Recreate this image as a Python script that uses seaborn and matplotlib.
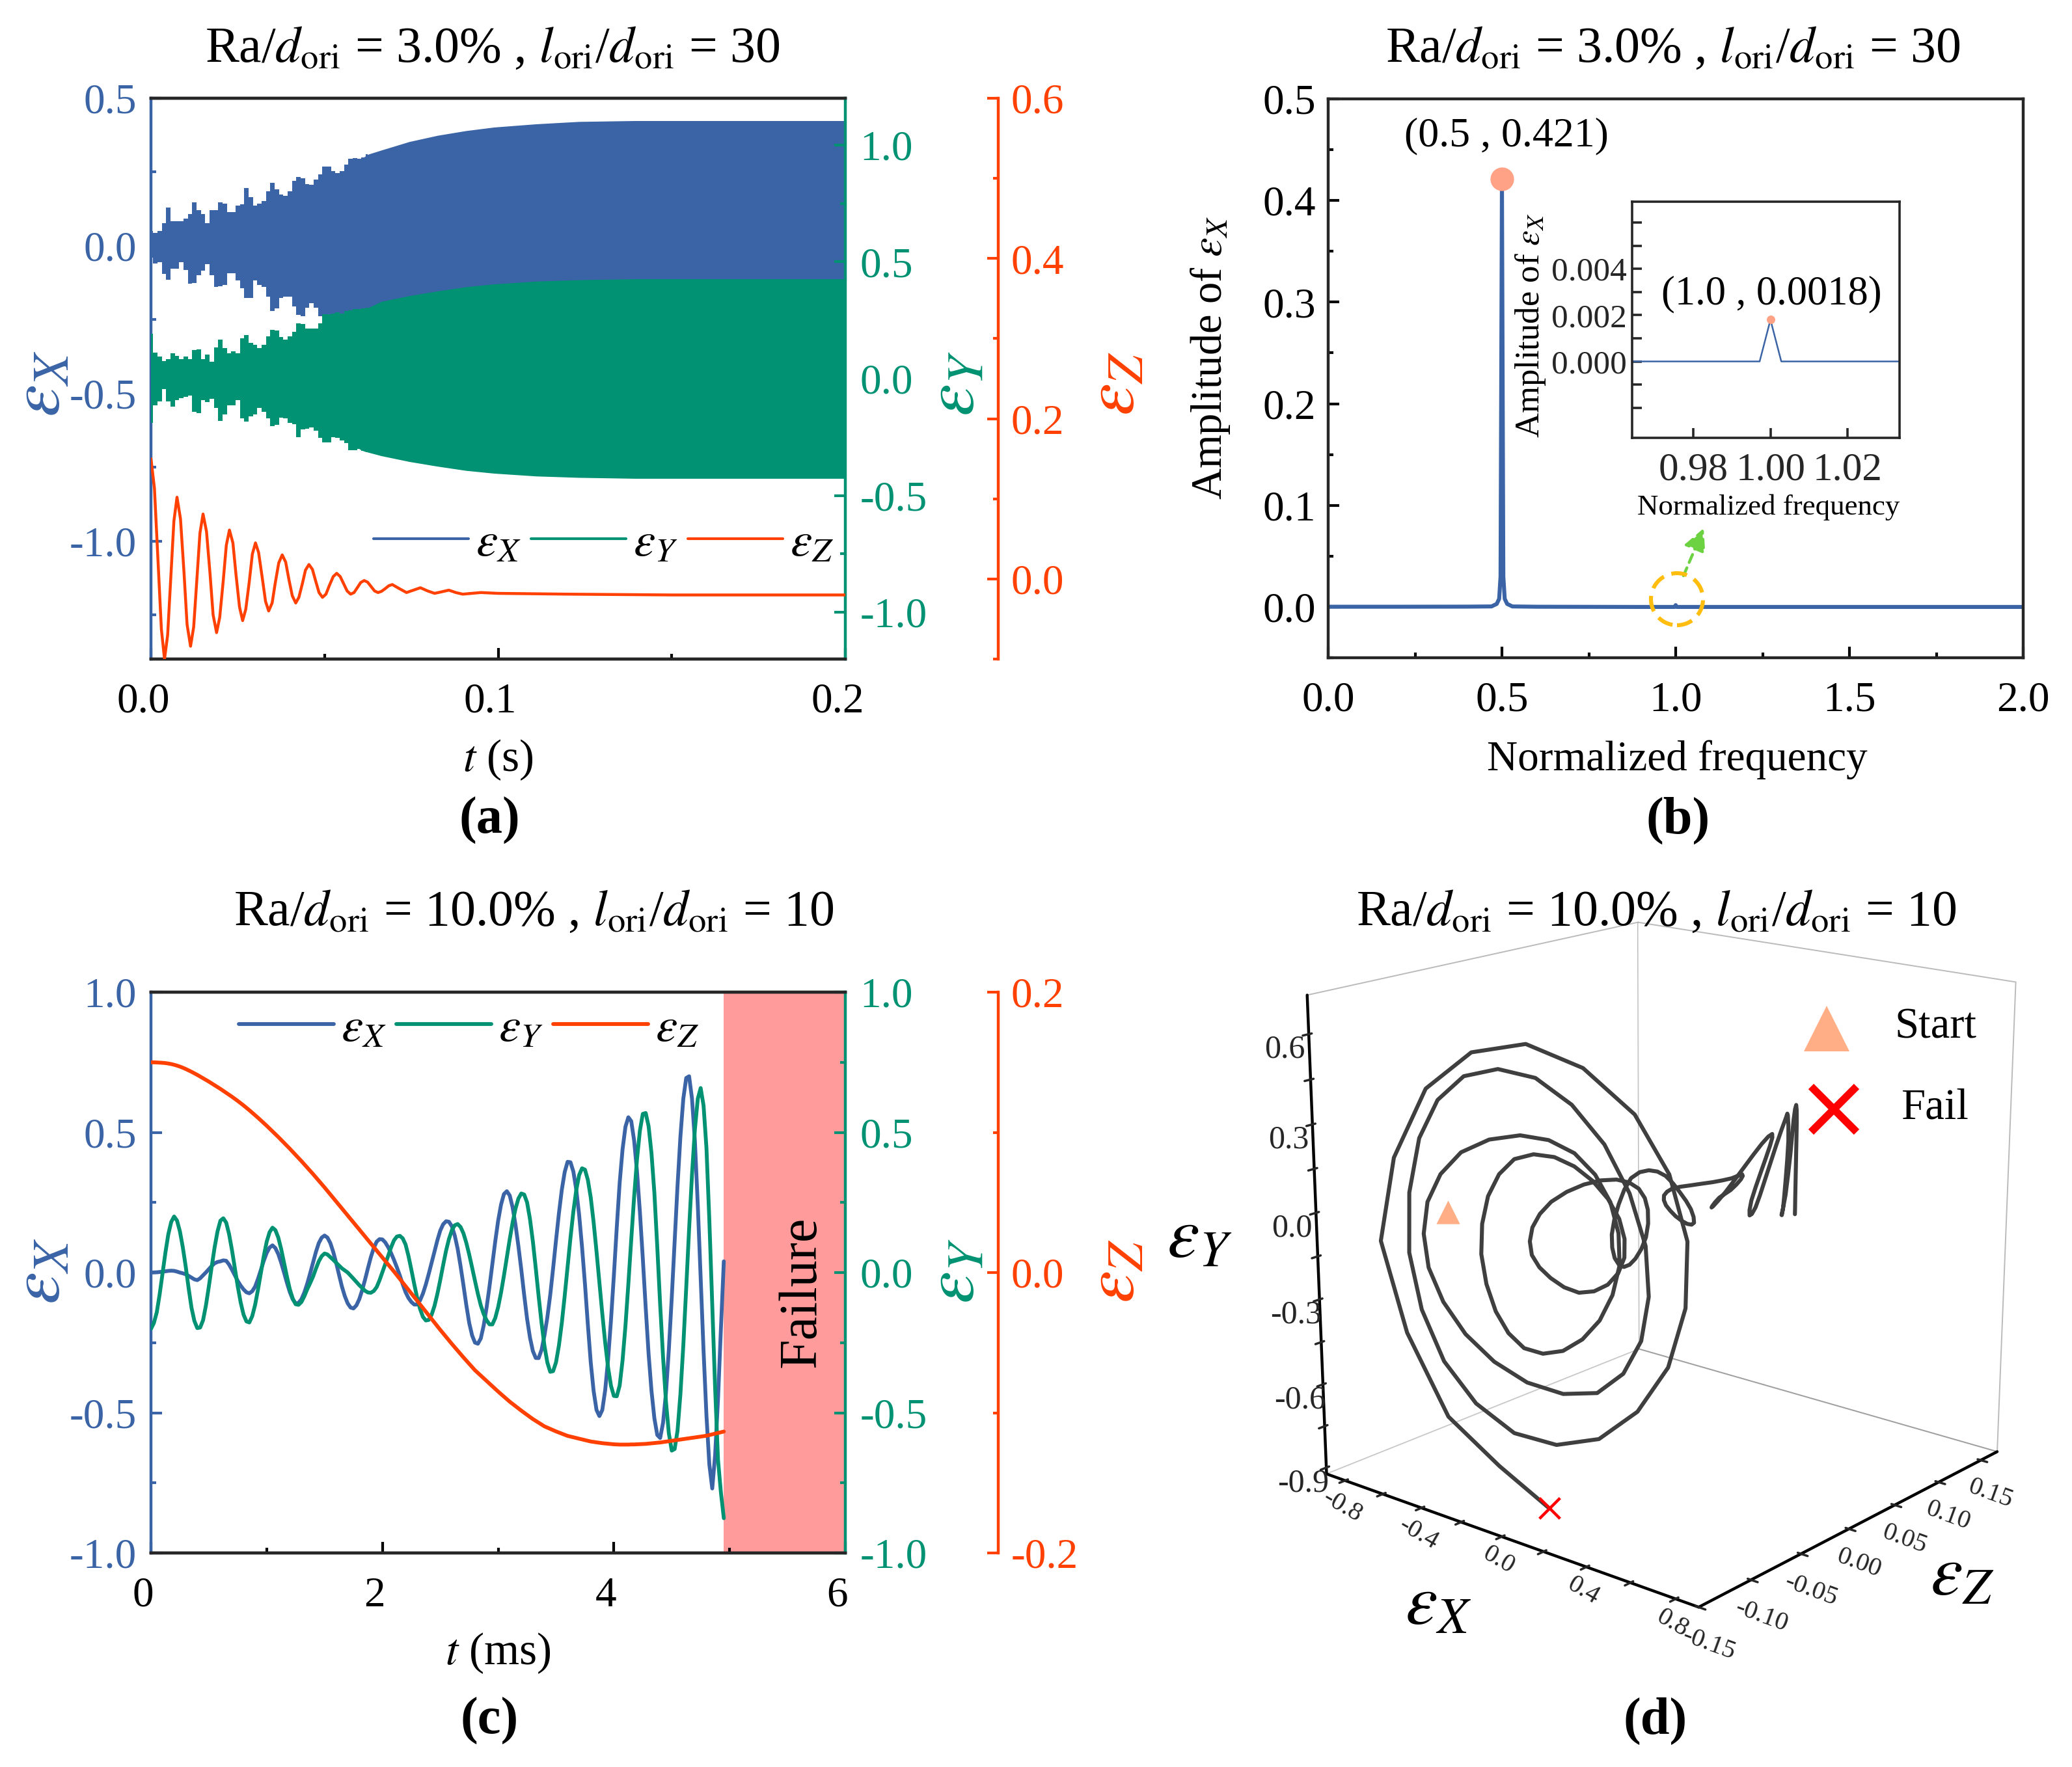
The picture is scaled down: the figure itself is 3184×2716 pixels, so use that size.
import numpy as np
import matplotlib
matplotlib.use('Agg')
import matplotlib.pyplot as plt
from matplotlib.lines import Line2D
from matplotlib.patches import Ellipse
from matplotlib.ticker import MultipleLocator
from matplotlib.transforms import ScaledTranslation
import seaborn as sb

W, H = 3184, 2716
BLUE = '#3A64A6'
GREEN = '#009272'
RED = '#FF4000'
PEAK = '#FFA286'

# panel (a): envelopes of the fast oscillation + eps_z decay
a_t = [round(.00125 * k, 5) for k in range(51)] + [.0663, .0744, .0825, .0907, .0988, .111, .1232, .1394, .2]
a_x_up = [.051, .044, .051, .077, .129, .084, .084, .084, .092, .107, .147, .121, .107, .077, .121, .121, .147,
          .143, .114, .114, .136, .140, .195, .165, .136, .143, .151, .184, .213, .191, .174, .169, .184, .220,
          .233, .228, .209, .206, .224, .242, .268, .268, .253, .246, .253, .276, .294, .298, .294, .30, .31,
          .324, .353, .374, .39, .402, .413, .421, .424, .424]
a_x_lo = [-.04, -.059, -.055, -.096, -.114, -.077, -.077, -.055, -.081, -.129, -.125, -.099, -.084, -.062, -.099,
          -.14, -.136, -.132, -.092, -.092, -.118, -.143, -.176, -.176, -.118, -.132, -.14, -.173, -.22, -.213,
          -.176, -.173, -.173, -.206, -.235, -.239, -.209, -.195, -.209, -.239, -.242, -.245, -.25, -.26, -.27,
          -.28, -.29, -.30, -.31, -.32, -.33, -.34, -.37, -.39, -.40, -.41, -.415, -.42, -.424, -.424]
a_y_up = [.191, .112, .094, .075, .084, .108, .098, .084, .094, .084, .122, .126, .084, .103, .071, .135, .168,
          .131, .108, .117, .108, .173, .187, .154, .145, .131, .145, .182, .21, .205, .177, .168, .182, .2,
          .238, .233, .214, .214, .214, .238, .275, .275, .279, .284, .279, .289, .293, .298, .298, .301, .303,
          .33, .355, .375, .393, .405, .417, .423, .427, .427]
a_y_lo = [-.189, -.115, -.097, -.045, -.097, -.12, -.092, -.083, -.078, -.073, -.143, -.148, -.092, -.101, -.087,
          -.124, -.18, -.152, -.115, -.115, -.092, -.171, -.185, -.161, -.152, -.124, -.143, -.171, -.203, -.199,
          -.166, -.171, -.189, -.194, -.25, -.217, -.213, -.208, -.222, -.254, -.273, -.273, -.25, -.254, -.264,
          -.277, -.305, -.305, -.301, -.31, -.315, -.33, -.355, -.375, -.393, -.405, -.417, -.423, -.427, -.427]
a_z_t = [0, .001, .002, .003, .0039, .0048, .0057, .0066, .0075, .0085, .0095, .0104, .0114, .0123, .0132, .0141, .015,
         .016, .017, .0179, .0189, .0198, .0208, .0217, .0226, .0236, .0245, .0255, .0264, .0273, .0283, .0292, .0301,
         .031, .032, .033, .0339, .0349, .0358, .0368, .0378, .0388, .0397, .0407, .0417, .0426, .0436, .0445, .0455,
         .0465, .0474, .0484, .0494, .0504, .0514, .0525, .0535, .0545, .0555, .0565, .0575, .0585, .0595, .0604, .0614,
         .0624, .0634, .0644, .0654, .0664, .0675, .0685, .0695, .0715, .0736, .0756, .0776, .0797, .0817, .0838, .0858,
         .0878, .0898, .095, .1, .12, .15, .2]
a_z = [.15, .113, .025, -.063, -.1, -.07, .001, .072, .102, .075, .009, -.057, -.084, -.06, -.002, .057, .081,
       .059, .007, -.045, -.067, -.048, -.003, .042, .061, .045, .005, -.035, -.052, -.038, -.004, .031, .045,
       .033, .003, -.028, -.04, -.03, -.005, .02, .03, .021, 0, -.021, -.03, -.023, -.006, .011, .018,
       .012, -.002, -.017, -.023, -.019, -.008, .003, .007, .003, -.006, -.015, -.019, -.017, -.0105, -.0045, -.002,
       -.004, -.0095, -.015, -.017, -.0155, -.012, -.0085, -.007, -.012, -.017, -.014, -.011, -.015, -.018, -.016, -.014,
       -.017, -.019, -.017, -.018, -.019, -.02, -.02]

# panel (b)
b_freq = [0, .2, .4, .47, .485, .492, .496, .5, .504, .508, .515, .53, .6, .9, .997, 1.0, 1.003, 1.5, 2.0]
b_amp = [.0002, .0002, .0003, .0005, .003, .008, .03, .421, .03, .008, .003, .0005, .0002, 0, 0, .0018, 0, 0, 0]
inset_freq = [.9642, .9972, 1.0, 1.0028, 1.0334]
inset_amp = [0, 0, .0018, 0, 0]

# panels (c) and (d): same run, time in ms
c_t = [round(.025 * i, 3) for i in range(199)]
eps_x = [0, .0005, .001, .002, .003, .0045, .006, .0066, .006, .0034, 0, -.0026, -.006, -.0118, -.018, -.0243, -.027, -.0204, -.01, .0007,
         .012, .0234, .033, .0377, .04, .0434, .042, .0286, .01, -.0101, -.03, -.0466, -.06, -.0704, -.074, -.0666, -.05, -.0222, .01, .0421,
         .07, .0892, .097, .0873, .066, .0354, 0, -.0366, -.07, -.0953, -.11, -.1084, -.095, -.0712, -.04, -.0034, .035, .073, .105, .1246,
         .132, .1246, .105, .0736, .035, -.0081, -.05, -.0842, -.11, -.1248, -.128, -.117, -.095, -.0629, -.025, .0159, .055, .087, .11, .1192,
         .118, .1073, .09, .0692, .045, .0184, -.01, -.0413, -.07, -.0907, -.105, -.1141, -.114, -.0994, -.075, -.0426, -.005, .0347, .075, .1154,
         .15, .1723, .183, .1811, .165, .132, .085, .0234, -.045, -.1162, -.18, -.2244, -.25, -.2538, -.235, -.1888, -.125, -.0503, .03, .1113,
         .185, .2425, .28, .29, .275, .2322, .17, .0944, .01, -.0803, -.165, -.2319, -.28, -.3047, -.305, -.2756, -.225, -.1597, -.08, .0153,
         .115, .2109, .295, .3584, .395, .3934, .36, .2956, .205, .0903, -.04, -.1847, -.32, -.4225, -.49, -.5119, -.49, -.4188, -.31, -.1694,
         -.01, .1613, .32, .4394, .52, .5538, .54, .4706, .36, .215, .05, -.125, -.29, -.4219, -.52, -.5794, -.59, -.5356, -.43, -.275,
         -.09, .1119, .31, .485, .62, .6938, .70, .6206, .47, .2413, -.02, -.28, -.51, -.685, -.77, -.65, -.45, -.2, .04]
eps_y = [-.201, -.18, -.142, -.0776, -.003, .0718, .137, .1806, .2, .1853, .147, .0904, .022, -.0548, -.125, -.1724, -.198, -.1961, -.17, -.117,
         -.05, .0216, .09, .1467, .185, .1936, .178, .1367, .08, .0151, -.05, -.1064, -.15, -.1742, -.178, -.1554, -.115, -.0604, 0, .0591,
         .11, .1441, .16, .1513, .125, .0838, .035, -.0148, -.06, -.0929, -.113, -.1151, -.105, -.0848, -.06, -.0381, -.015, .0136, .04, .0583,
         .068, .0645, .055, .0454, .035, .025, .015, .0075, 0, -.011, -.022, -.0335, -.045, -.055, -.065, -.071, -.072, -.0658, -.052, -.0274,
         .002, .031, .06, .0901, .115, .1284, .131, .1221, .1, .0593, .01, -.0414, -.09, -.1296, -.158, -.1709, -.169, -.1505, -.119, -.0759,
         -.026, .0273, .078, .1196, .151, .1686, .173, .1626, .14, .1058, .064, .0177, -.03, -.0761, -.117, -.148, -.17, -.1847, -.185, -.1619,
         -.123, -.0713, -.011, .0542, .119, .1782, .228, .2638, .282, .2781, .25, .1908, .111, .0153, -.085, -.1794, -.261, -.3206, -.354, -.3516,
         -.32, -.2604, -.18, -.0831, .021, .1239, .218, .2941, .348, .3718, .367, .3308, .268, .1792, .075, -.0361, -.147, -.2506, -.339, -.4038,
         -.44, -.4411, -.403, -.3134, -.19, -.0411, .117, .2701, .405, .5063, .566, .5689, .522, .4252, .284, .0912, -.115, -.3015, -.46, -.5735,
         -.635, -.6294, -.564, -.4335, -.26, -.0557, .155, .3492, .51, .6196, .658, .5952, .444, .1857, -.115, -.4134, -.668, -.785, -.876]
eps_z = [.15, .14995, .14985, .14975, .1496, .1494, .1491, .1487, .1482,
         .1476, .1469, .1461, .1452, .1442, .1432, .1421, .141,
         .1398, .1386, .1374, .1362, .1349, .1336, .1323, .131,
         .1296, .1282, .1268, .1254, .1239, .1224, .1208, .1192,
         .1175, .1158, .114, .1122, .1104, .1085, .1066, .1047,
         .1027, .1007, .0987, .0967, .0946, .0925, .0904, .0883,
         .0861, .0839, .0817, .0795, .0772, .0749, .0726, .0703,
         .0679, .0655, .0631, .0607, .0582, .0557, .0532, .0507,
         .0482, .0457, .0432, .0407, .0382, .0357, .0332, .0307,
         .0282, .0257, .0232, .0207, .0182, .0157, .0132, .0107,
         .0082, .0057, .0032, .0007, -.0019, -.0045, -.0071, -.0097,
         -.0123, -.0149, -.0175, -.0201, -.0227, -.0253, -.0279, -.0305,
         -.0331, -.0357, -.0383, -.0409, -.0434, -.0459, -.0484, -.0509,
         -.0533, -.0557, -.0581, -.0605, -.0628, -.0651, -.0674, -.0697,
         -.0716, -.0735, -.0754, -.0773, -.0792, -.0811, -.083, -.0849,
         -.0867, -.0885, -.0903, -.0921, -.0937, -.0953, -.0969, -.0985,
         -.1, -.1015, -.103, -.1045, -.1058, -.1071, -.1084, -.1097,
         -.1106, -.1115, -.1124, -.1133, -.1141, -.1149, -.1157, -.1165,
         -.117, -.1175, -.118, -.1185, -.119, -.1195, -.12, -.1205,
         -.1208, -.1211, -.1214, -.1217, -.1219, -.1221, -.1223, -.1225,
         -.1226, -.1227, -.1227, -.1227, -.1227, -.1226, -.1226, -.1225,
         -.1224, -.1223, -.1222, -.122, -.1218, -.1216, -.1214, -.1212,
         -.1209, -.1206, -.1203, -.12, -.1197, -.1194, -.1191, -.1188,
         -.1185, -.1182, -.1179, -.1176, -.1173, -.117, -.1167, -.1164,
         -.1159, -.1154, -.1149, -.1144, -.1139, -.1134]
start_xyz = [-.62, -.08, -.03]

sb.set_theme(style='ticks')
plt.rcParams['font.family'] = ['Liberation Serif', 'DejaVu Serif']
plt.rcParams['mathtext.fontset'] = 'stix'
plt.rcParams['axes.unicode_minus'] = False
plt.rcParams['text.color'] = 'black'

fig = plt.figure(figsize=(W / 200, H / 200), dpi=200)


def fx(x):
    return x / W


def fy(y):
    return 1 - y / H


def px_axes(x0, y0, x1, y1, **kw):
    return fig.add_axes([fx(x0), fy(y1), (x1 - x0) / W, (y1 - y0) / H], **kw)


def put(x, y, s, size=24, color='black', rot=0, **kw):
    fig.text(fx(x), fy(y), s, fontsize=size, color=color, rotation=rot, ha='center', va='center', **kw)


def line(ax, x, y, color, lw):
    sb.lineplot(x=x, y=y, ax=ax, color=color, lw=lw, estimator=None, sort=False, errorbar=None)
    ax.set_xlabel('')
    ax.set_ylabel('')


def ticks(ax, axis, major, minor, color='black', size=23.5, pad=7):
    a = ax.xaxis if axis == 'x' else ax.yaxis
    a.set_major_locator(MultipleLocator(major))
    a.set_minor_locator(MultipleLocator(minor))
    ax.tick_params(axis=axis, which='major', direction='in', length=6, width=1.5, color=color,
                   labelcolor=color, labelsize=size, pad=pad)
    ax.tick_params(axis=axis, which='minor', direction='in', length=3, width=1.5, color=color)


def triple_axes(x0, y0, x1, y1):
    ax = px_axes(x0, y0, x1, y1)
    ax_y = ax.twinx()
    ax_z = ax.twinx()
    ax_z.spines['right'].set_position(('axes', 1.22))
    for s in ax.spines.values():
        s.set_linewidth(1.6)
    for s in ax_y.spines.values():
        s.set_linewidth(1.6)
    ax.spines['left'].set_color(BLUE)
    ax.spines['right'].set_visible(False)
    ax_y.spines['right'].set_color(GREEN)
    ax_y.spines['left'].set_visible(False)
    for side in ['top', 'bottom', 'left']:
        ax_z.spines[side].set_visible(False)
    ax_z.spines['right'].set_color(RED)
    ax_z.spines['right'].set_linewidth(1.6)
    return ax, ax_y, ax_z


def shift_xlabels(ax):
    off = ScaledTranslation(-12 / 200, 0, fig.dpi_scale_trans)
    for lab in ax.get_xticklabels():
        lab.set_transform(lab.get_transform() + off)


# ---------- (a)
ax, ax_y, ax_z = triple_axes(232, 151, 1299, 1013)
# early part is made of separate bars, later part is a solid band (they overlap so no seam shows)
ax.fill_between(a_t[:51], a_x_lo[:51], a_x_up[:51], color=BLUE, lw=0, step='mid')
ax.fill_between(a_t[48:], a_x_lo[48:], a_x_up[48:], color=BLUE, lw=0)
ax_y.fill_between(a_t[:51], a_y_lo[:51], a_y_up[:51], color=GREEN, lw=0, step='mid')
ax_y.fill_between(a_t[48:], a_y_lo[48:], a_y_up[48:], color=GREEN, lw=0)
line(ax_z, a_z_t, a_z, RED, 1.6)
ax.set_xlim(0, .2)
ax.set_ylim(-1.4, .5)
ax_y.set_ylim(-1.2, 1.2)
ax_z.set_ylim(-.1, .6)
ticks(ax, 'x', .1, .05, pad=13)
ticks(ax, 'y', .5, .25, BLUE, pad=8)
ticks(ax_y, 'y', .5, .25, GREEN, pad=8)
ticks(ax_z, 'y', .2, .1, RED, pad=7)
shift_xlabels(ax)
hs = [Line2D([], [], color=c, lw=1.5) for c in [BLUE, GREEN, RED]]
ax_z.legend(hs, [r'$\varepsilon_X$', r'$\varepsilon_Y$', r'$\varepsilon_Z$'], ncol=3, frameon=False, fontsize=27,
            handlelength=1.95, handletextpad=.15, columnspacing=.2, loc='center', bbox_to_anchor=(.652, .205))

# ---------- (b)
ax_b = px_axes(2041, 152, 3109, 1011)
line(ax_b, b_freq, b_amp, BLUE, 2.2)
sb.scatterplot(x=[.5], y=[.421], ax=ax_b, color=PEAK, s=170, linewidth=0, zorder=5)
ax_b.set_xlim(0, 2)
ax_b.set_ylim(-.05, .5)
ticks(ax_b, 'x', .5, .25, pad=13)
ticks(ax_b, 'y', .1, .05)
for s in ax_b.spines.values():
    s.set_linewidth(1.6)
ax_b.text(.513, .463, '(0.5 , 0.421)', fontsize=23, ha='center', va='center')

ax_in = px_axes(2508, 310, 2919, 673)
line(ax_in, inset_freq, inset_amp, BLUE, .9)
sb.scatterplot(x=[1.0], y=[.0018], ax=ax_in, color=PEAK, s=22, linewidth=0, zorder=5)
ax_in.set_xlim(.9642, 1.0334)
ax_in.set_ylim(-.0033, .0069)
ax_in.set_xticks([.98, 1.0, 1.02], ['0.98', '1.00', '1.02'])
ax_in.set_yticks([.004, .002, 0], ['0.004', '0.002', '0.000'])
ax_in.set_yticks([-.002, -.001, .001, .003, .005, .006], minor=True)
ax_in.tick_params(which='both', direction='in', length=5.5, width=1.3, labelsize=18.5, pad=3)
ax_in.tick_params(axis='x', pad=8, labelsize=22)
for s in ax_in.spines.values():
    s.set_linewidth(1.3)
ax_in.text(1.0003, .0029, '(1.0 , 0.0018)', fontsize=22.5, ha='center', va='center')
put(2718, 780, 'Normalized frequency', size=16.2)
put(2351, 500, r'Amplitude of $\varepsilon_X$', size=19, rot=90)

fig.add_artist(Ellipse((fx(2577), fy(921)), 80 / W, 80 / H, transform=fig.transFigure, fill=False,
                       ec='#FFBE0F', lw=2.2, ls=(0, (4, 2))))
ax_b.annotate('', xy=(fx(2618), fy(812)), xytext=(fx(2587), fy(885)), xycoords='figure fraction',
              textcoords='figure fraction',
              arrowprops=dict(arrowstyle='-|>', color='#6CD241', lw=1.6, ls=(0, (3, 2)), mutation_scale=26,
                              shrinkA=0, shrinkB=0))

# ---------- (c)
ax, ax_y, ax_z = triple_axes(232, 1525, 1299, 2387)
ax.axvspan(4.95, 6, color='#FF9B9B', lw=0, zorder=0)
line(ax, c_t, eps_x, BLUE, 2.1)
line(ax_y, c_t, eps_y, GREEN, 2.1)
line(ax_z, c_t, eps_z, RED, 2.1)
ax.set_xlim(0, 6)
ax.set_ylim(-1, 1)
ax_y.set_ylim(-1, 1)
ax_z.set_ylim(-.2, .2)
ticks(ax, 'x', 2, 1, pad=13)
ticks(ax, 'y', .5, .25, BLUE, pad=8)
ticks(ax_y, 'y', .5, .25, GREEN, pad=8)
ticks(ax_z, 'y', .2, .1, RED, pad=7)
ax.set_xticks([0, 2, 4, 6])
shift_xlabels(ax)
ax.text(5.63, -.07, 'Failure', rotation=90, fontsize=29.5, ha='center', va='center')
hs = [Line2D([], [], color=c, lw=2.1) for c in [BLUE, GREEN, RED]]
ax_z.legend(hs, [r'$\varepsilon_X$', r'$\varepsilon_Y$', r'$\varepsilon_Z$'], ncol=3, frameon=False, fontsize=27,
            handlelength=1.95, handletextpad=.15, columnspacing=.2, loc='center', bbox_to_anchor=(.458, .934))

# ---------- (d)
ax3 = px_axes(1812, 1276, 3272, 2546, projection='3d')
ax3.set_proj_type('persp', focal_length=.6)
ax3.view_init(elev=17.3, azim=-50)
ax3.set_box_aspect((1, 1, 1.015))
ax3.patch.set_alpha(0)
ax3.grid(False)
ax3.plot(eps_x, eps_z, eps_y, color='#3F3F3F', lw=2.2)
ax3.scatter(eps_x[-1], eps_z[-1], eps_y[-1], marker='x', c='red', s=130, linewidths=1.6, depthshade=False)
ax3.scatter(*start_xyz, marker='^', c='#FFAE85', s=170, linewidths=0, depthshade=False)
ax3.set_xlim(-.9, .9, view_margin=0)
ax3.set_ylim(-.15, .17, view_margin=0)
ax3.set_zlim(-.923, .728, view_margin=0)
ax3.set_xticks([-.8, -.6, -.4, -.2, 0, .2, .4, .6, .8], ['-0.8', '', '-0.4', '', '0.0', '', '0.4', '', '0.8'])
ax3.set_yticks([-.15, -.1, -.05, 0, .05, .1, .15], ['-0.15', '-0.10', '-0.05', '0.00', '0.05', '0.10', '0.15'])
ax3.set_zticks([-.9, -.75, -.6, -.45, -.3, -.15, 0, .15, .3, .45, .6],
               ['-0.9', '', '-0.6', '', '-0.3', '', '0.0', '', '0.3', '', '0.6'])
ax3.tick_params(axis='x', labelsize=14.5, labelrotation=-30, pad=-6)
ax3.tick_params(axis='y', labelsize=14.5, labelrotation=-20, pad=-2)
ax3.tick_params(axis='z', labelsize=18, pad=0)
ax3.zaxis.set_ticks_position('lower')
for a in [ax3.xaxis, ax3.yaxis, ax3.zaxis]:
    a.pane.set_facecolor((1, 1, 1, 0))
    a.pane.set_edgecolor('#777777')
    a.pane.set_linewidth(.7)
    a.line.set_color('black')
    a.line.set_linewidth(1.6)

fig.add_artist(Line2D([fx(2807)], [fy(1581)], marker='^', ms=25, color='#FFAE85', mew=0, transform=fig.transFigure))
fig.add_artist(Line2D([fx(2818)], [fy(1705)], marker='x', ms=25, color='red', mew=4.2, transform=fig.transFigure))
put(2975, 1579, 'Start')
put(2973, 1703, 'Fail')

# ---------- shared text
ttl = r'Ra/$d_{\mathrm{ori}}$ = %s , $l_{\mathrm{ori}}$/$d_{\mathrm{ori}}$ = %s'
put(757, 76, ttl % ('3.0%', '30'), size=28)
put(2571, 76, ttl % ('3.0%', '30'), size=28)
put(820, 1403, ttl % ('10.0%', '10'), size=28)
put(2545, 1403, ttl % ('10.0%', '10'), size=28)

for y in [590, 1954]:
    put(65, y, r'$\varepsilon_X$', size=40, color=BLUE, rot=90)
    put(1470, y, r'$\varepsilon_Y$', size=40, color=GREEN, rot=90)
    put(1716, y, r'$\varepsilon_Z$', size=40, color=RED, rot=90)
put(1860, 550, r'Amplitude of $\varepsilon_X$', size=24, rot=90)
put(1843, 1906, r'$\varepsilon_Y$', size=40)
put(2210, 2470, r'$\varepsilon_X$', size=40)
put(3015, 2425, r'$\varepsilon_Z$', size=40)

put(765, 1168, r'$t$ (s)', size=25)
put(2577, 1168, 'Normalized frequency', size=23.5)
put(765, 2541, r'$t$ (ms)', size=25)

put(752, 1261, '(a)', size=29, fontweight='bold')
put(2579, 1261, '(b)', size=29, fontweight='bold')
put(752, 2645, '(c)', size=29, fontweight='bold')
put(2544, 2645, '(d)', size=29, fontweight='bold')

fig.savefig('out.png', dpi=200, facecolor='white')
